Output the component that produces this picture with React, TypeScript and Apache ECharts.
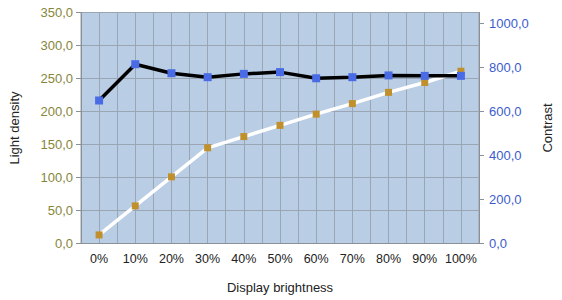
import React, { useEffect, useRef } from "react";
import * as echarts from "echarts";

const categories = ["0%", "10%", "20%", "30%", "40%", "50%", "60%", "70%", "80%", "90%", "100%"];
const lightDensity = [13, 57, 101, 145, 162, 179, 196, 212, 229, 244, 261];
const contrast = [650, 815, 774, 756, 771, 779, 751, 756, 764, 762, 762];
const halfBands = Array.from({ length: 22 }, (_, i) => String(i));

const fmt = (v: number) => v.toFixed(1).replace(".", ",");

export default function App() {
  const ref = useRef<HTMLDivElement>(null);
  useEffect(() => {
    if (!ref.current) return;
    const chart = echarts.init(ref.current, undefined, { renderer: "svg" });
    const font = "Liberation Sans, Arial, sans-serif";
    chart.setOption({
      animation: false,
      textStyle: { fontFamily: font },
      grid: {
        left: 75,
        right: 79,
        top: 12.5,
        bottom: 56.5,
        show: true,
        backgroundColor: "#b9cde5",
        borderColor: "#9a9fa6",
        borderWidth: 1,
      },
      xAxis: [
        {
          type: "category",
          data: categories,
          boundaryGap: true,
          name: "Display brightness",
          nameLocation: "middle",
          nameGap: 37,
          nameTextStyle: { fontSize: 13, color: "#222", fontFamily: font },
          axisLine: { lineStyle: { color: "#8a9098" } },
          axisTick: { show: false },
          axisLabel: { interval: 0, fontSize: 12.5, color: "#222", margin: 9, fontFamily: font },
          splitLine: { show: false },
        },
        {
          type: "category",
          data: halfBands,
          boundaryGap: true,
          position: "bottom",
          axisLine: { show: false },
          axisTick: { show: false },
          axisLabel: { show: false },
          splitLine: { show: true, interval: 0, lineStyle: { color: "#9aa6b4", width: 1 } },
        },
      ],
      yAxis: [
        {
          type: "value",
          min: 0,
          max: 350,
          interval: 50,
          name: "Light density",
          nameLocation: "middle",
          nameGap: 60,
          nameTextStyle: { fontSize: 13, color: "#222", fontFamily: font },
          axisLine: { show: true, lineStyle: { color: "#8a9098" } },
          axisTick: { show: true, length: 5, lineStyle: { color: "#8a9098" } },
          axisLabel: { fontSize: 13, color: "#86863a", margin: 8, formatter: fmt, fontFamily: font },
          splitLine: { show: true, lineStyle: { color: "#9aa6b4", width: 1 } },
        },
        {
          type: "value",
          min: 0,
          max: 1050,
          interval: 200,
          position: "right",
          name: "Contrast",
          nameLocation: "middle",
          nameGap: 62,
          nameRotate: 90,
          nameTextStyle: { fontSize: 13, color: "#222", fontFamily: font },
          axisLine: { show: true, lineStyle: { color: "#8a9098" } },
          axisTick: { show: true, length: 5, lineStyle: { color: "#8a9098" } },
          axisLabel: {
            fontSize: 13,
            color: "#3c5ccc",
            margin: 10,
            showMaxLabel: false,
            formatter: fmt,
            fontFamily: font,
          },
          splitLine: { show: false },
        },
      ],
      series: [
        {
          name: "Light density",
          type: "line",
          xAxisIndex: 0,
          yAxisIndex: 0,
          data: lightDensity,
          symbol: "rect",
          symbolSize: 7,
          lineStyle: { color: "#ffffff", width: 3.5 },
          itemStyle: { color: "#c0902c" },
          z: 3,
        },
        {
          name: "Contrast",
          type: "line",
          xAxisIndex: 0,
          yAxisIndex: 1,
          data: contrast,
          symbol: "rect",
          symbolSize: 8,
          lineStyle: { color: "#000000", width: 3.5 },
          itemStyle: { color: "#4a6be6" },
          z: 4,
        },
      ],
    });
    return () => chart.dispose();
  }, []);
  return <div ref={ref} style={{ width: 562, height: 300, position: "absolute", left: 0, top: 0 }} />;
}
